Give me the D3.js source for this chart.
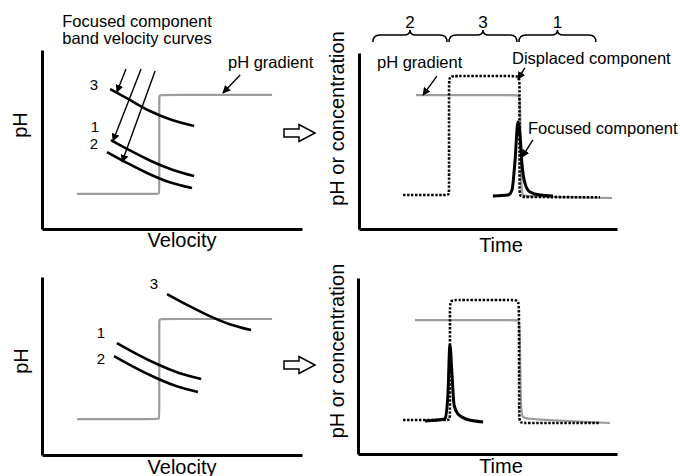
<!DOCTYPE html>
<html><head><meta charset="utf-8">
<script src="https://cdn.jsdelivr.net/npm/d3@7"></script>
<style>
html,body{margin:0;padding:0;background:#fff;}
svg{display:block;font-family:"Liberation Sans",Arial,Helvetica,sans-serif;}
</style></head>
<body>
<svg id="c" width="680" height="476"></svg>
<script>
// ---------- DATA (relative units, 0-100 on each axis) ----------
// Top-left: pH vs velocity
const tlGradient = [[13.5,19.6],[44,19.6],[45.1,19.6],[45.1,21.5],[45.1,73],[45.1,74.9],[46.5,74.9],[88.5,74.9]];
const tlCurve3 = [[26.2,78.2],[33.8,72.1],[41.5,65.9],[50,60.9],[58.5,57.5]];
const tlCurve1 = [[26.5,49.7],[34.2,43.6],[41.9,38],[50.4,33],[58.5,29.6]];
const tlCurve2 = [[25,43],[32.7,36.9],[40.4,31.3],[48.8,26.3],[57.7,22.9]];
const tlArrows = [[[32.3,89.4],[28.8,76.5]],[[38.1,89.4],[27.3,49.2]],[[43.5,88.3],[30.8,37.4]],[[76.2,86],[69.6,76]]];

// Bottom-left
const blGradient = [[13.5,20.2],[44,20.2],[45.1,20.2],[45.1,22],[45.1,74.5],[45.1,76.4],[46.5,76.4],[88.5,76.4]];
const blCurve3 = [[48.1,90.4],[55.8,84.3],[63.5,78.7],[71.9,73.6],[80.4,70.2]];
const blCurve1 = [[28.8,62.9],[36.5,56.7],[44.2,51.1],[52.7,46.1],[61.2,42.7]];
const blCurve2 = [[27.7,55.6],[35.4,49.4],[43.1,43.8],[51.5,38.8],[60,35.4]];

// Top-right: pH or concentration vs time
const trGradient = [[22.1,76.1],[60.8,76.1],[62.2,76.1],[62.5,72],[62.8,24],[63.3,18.8],[65,18.6],[98.1,17.6]];
const trDisplaced = [[17.1,19.3],[33.3,19.3],[34.9,19.3],[34.9,22],[34.9,82],[34.9,86.9],[37.5,86.9],[59.5,86.9],[62.2,86.9],[62.2,82],[62.2,22],[62.3,18.2],[64.8,18.2],[93.4,18]];
const trFocused = [[51.9,18.8],[57.8,19.3],[59.3,22.2],[60.5,39.2],[61.6,60.8],[62.4,53.4],[63.2,36.4],[64.3,26.1],[66.3,21],[70.2,19.3],[75.2,18.8]];
const trArrows = [[[30.2,86.9],[24.8,76.1]],[[64.3,91.5],[61.6,85.2]],[[67.4,50.6],[63.2,40.9]]];
const braceLabels = ["2","3","1"];
const braceSpans = [[5,34.5],[34.5,61.6],[61.6,92.2]];

// Bottom-right
const brGradient = [[22,76.1],[60.8,76.1],[62.2,76.1],[62.5,72],[62.8,24],[63.5,20.5],[65.5,19.8],[97.3,17.6]];
const brDisplaced = [[17.4,19.3],[33.8,19.3],[35.5,19.3],[35.5,22],[35.5,82],[35.5,87.5],[38.3,87.5],[59,87.5],[62,87.5],[62.2,83],[62.2,21],[62.4,17.6],[65,17.6],[93.4,17.6]];
const brFocused = [[25.9,18.8],[33.6,19.9],[34.7,33.5],[35.5,61.9],[36.3,44.9],[37.1,27.8],[38.6,22.7],[41.7,19.9],[48.3,18.2]];

// ---------- DRAWING ----------
const svg = d3.select("#c");
const FONT_ANN = 16.5, FONT_AX = 20;

const defs = svg.append("defs");
defs.append("marker").attr("id","ah").attr("viewBox","0 0 10 10").attr("refX",9).attr("refY",5)
  .attr("markerWidth",8).attr("markerHeight",8).attr("markerUnits","userSpaceOnUse").attr("orient","auto")
  .append("path").attr("d","M0,0 L10,5 L0,10 Z").attr("fill","#000");

function panel(box){
  const x = d3.scaleLinear().domain([0,100]).range([box.x0, box.x1]);
  const y = d3.scaleLinear().domain([0,100]).range([box.y0, box.y1]);
  const g = svg.append("g");
  const ax = g.append("g").attr("transform",`translate(0,${box.y0})`)
    .call(d3.axisBottom(x).tickValues([]).tickSizeOuter(0));
  const ay = g.append("g").attr("transform",`translate(${box.x0},0)`)
    .call(d3.axisLeft(y).tickValues([]).tickSizeOuter(0));
  [ax,ay].forEach(a=>a.select(".domain").attr("stroke","#000").attr("stroke-width",3));
  return {x,y,g};
}
function line(p, data, curve, style){
  const gen = d3.line().x(d=>p.x(d[0])).y(d=>p.y(d[1])).curve(curve);
  const path = p.g.append("path").datum(data).attr("d",gen).attr("fill","none");
  Object.entries(style).forEach(([k,v])=>path.attr(k,v));
  return path;
}
function arrows(p, arr){
  arr.forEach(a=>{
    p.g.append("line").attr("x1",p.x(a[0][0])).attr("y1",p.y(a[0][1]))
      .attr("x2",p.x(a[1][0])).attr("y2",p.y(a[1][1]))
      .attr("stroke","#000").attr("stroke-width",1.4).attr("marker-end","url(#ah)");
  });
}
function text(x,y,s,size,anchor,rot){
  const t = svg.append("text").attr("x",x).attr("y",y).text(s).attr("font-size",size)
    .attr("text-anchor",anchor||"start").attr("fill","#000");
  if(rot) t.attr("transform",`rotate(${rot},${x},${y})`);
  return t;
}
const grayStyle = {stroke:"#9c9c9c","stroke-width":2.2};
const blackStyle = {stroke:"#000","stroke-width":2.6};
const dotStyle = {stroke:"#000","stroke-width":2.6,"stroke-dasharray":"2.4,1.6"};
const peakStyle = {stroke:"#000","stroke-width":3};

// Top-left
const tl = panel({x0:42,x1:302,y0:229,y1:50});
line(tl, tlGradient, d3.curveBasis, grayStyle);
[tlCurve3,tlCurve1,tlCurve2].forEach(c=>line(tl,c,d3.curveNatural,blackStyle));
arrows(tl, tlArrows);

// Bottom-left
const bl = panel({x0:42,x1:302,y0:455,y1:277});
line(bl, blGradient, d3.curveBasis, grayStyle);
[blCurve3,blCurve1,blCurve2].forEach(c=>line(bl,c,d3.curveNatural,blackStyle));

// Top-right
const tr = panel({x0:359,x1:617,y0:229,y1:53});
line(tr, trGradient, d3.curveBasis, grayStyle);
line(tr, trDisplaced, d3.curveBasis, dotStyle);
line(tr, trFocused, d3.curveMonotoneX, peakStyle);
arrows(tr, trArrows);

// Bottom-right
const br = panel({x0:358,x1:617,y0:454,y1:278});
line(br, brGradient, d3.curveBasis, grayStyle);
line(br, brDisplaced, d3.curveBasis, dotStyle);
line(br, brFocused, d3.curveMonotoneX, peakStyle);

// Braces above top-right panel
const braceY = 35;
braceSpans.forEach((s,i)=>{
  const x1 = tr.x(s[0]), x2 = tr.x(s[1]), xm = (x1+x2)/2;
  const d = `M${x1+1},${braceY+7} Q${x1+1},${braceY} ${x1+8},${braceY} L${xm-6},${braceY} Q${xm},${braceY} ${xm},${braceY-5} Q${xm},${braceY} ${xm+6},${braceY} L${x2-8},${braceY} Q${x2-1},${braceY} ${x2-1},${braceY+7}`;
  svg.append("path").attr("d",d).attr("fill","none").attr("stroke","#000").attr("stroke-width",1.5);
  text(xm, 28, braceLabels[i], 17, "middle");
});

// Hollow arrows between panels
function hollow(cy){
  const x0=284, xb=299, xt=315, hs=4, hh=8.5;
  const d=`M${x0},${cy-hs} L${xb},${cy-hs} L${xb},${cy-hh} L${xt},${cy} L${xb},${cy+hh} L${xb},${cy+hs} L${x0},${cy+hs} Z`;
  svg.append("path").attr("d",d).attr("fill","#fff").attr("stroke","#000").attr("stroke-width",1.5).attr("stroke-linejoin","miter");
}
hollow(133); hollow(365);

// Texts
text(137,27,"Focused component",FONT_ANN,"middle");
text(137,44,"band velocity curves",FONT_ANN,"middle");
text(228,68,"pH gradient",FONT_ANN);
text(94,89.5,"3",15,"middle");
text(95,131.5,"1",15,"middle");
text(94,149,"2",15,"middle");
text(154,289,"3",15,"middle");
text(101,338,"1",15,"middle");
text(101,364,"2",15,"middle");

text(377,68,"pH gradient",FONT_ANN);
text(512,64,"Displaced component",FONT_ANN);
text(528,134,"Focused component",FONT_ANN);

text(182,246.5,"Velocity",FONT_AX,"middle");
text(182,473.5,"Velocity",FONT_AX,"middle");
text(501,251.5,"Time",FONT_AX,"middle");
text(501,473,"Time",FONT_AX,"middle");
text(27,125,"pH",FONT_AX,"middle",-90);
text(28,361,"pH",FONT_AX,"middle",-90);
text(344,118.5,"pH or concentration",FONT_AX,"middle",-90);
text(344,351,"pH or concentration",FONT_AX,"middle",-90);
</script>
</body></html>
